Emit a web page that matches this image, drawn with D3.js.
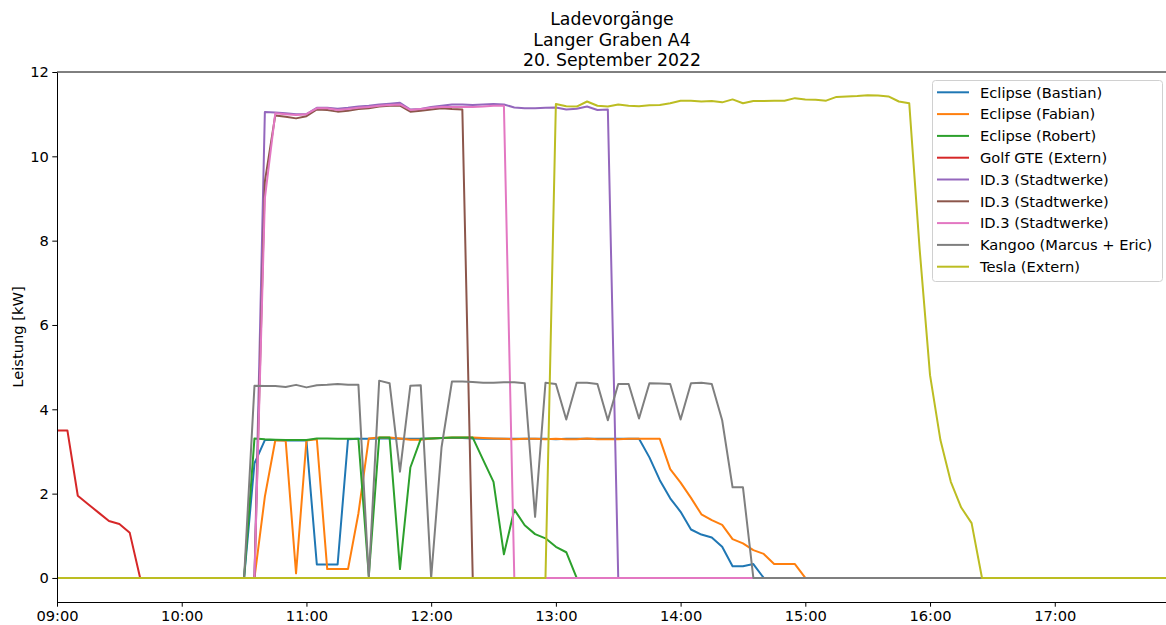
<!DOCTYPE html>
<html>
<head>
<meta charset="utf-8">
<script src="https://d3js.org/d3.v7.min.js"></script>
<style>
  body { margin: 0; background: #fff; }
  svg text { font-family: "DejaVu Sans", sans-serif; fill: #000; }
</style>
</head>
<body>
<div id="chart"></div>
<script>
// time grid: one reading every 5 minutes starting 09:00
var startTime = "2022-09-20 09:00";
var stepMinutes = 5;
var nSteps = 108;

var seriesNames = ["Eclipse (Bastian)", "Eclipse (Fabian)", "Eclipse (Robert)", "Golf GTE (Extern)",
  "ID.3 (Stadtwerke)", "ID.3 (Stadtwerke)", "ID.3 (Stadtwerke)", "Kangoo (Marcus + Eric)", "Tesla (Extern)"];
var colors = ["#1f77b4", "#ff7f0e", "#2ca02c", "#d62728", "#9467bd", "#8c564b", "#e377c2", "#7f7f7f", "#bcbd22"];

// each session: first step index, then kW readings (zero outside a session)
var bastianFrom = 18;
var bastian = [0, 2.72, 3.27, 3.27, 3.26, 3.26, 3.26, 0.32, 0.32, 0.32, 3.29, 3.3, 3.3, 3.31, 3.31, 3.3, 3.3,
  3.3, 3.31, 3.32, 3.32, 3.32, 3.31, 3.3, 3.3, 3.3, 3.3, 3.3, 3.3, 3.3, 3.29, 3.3, 3.3, 3.3, 3.3, 3.3, 3.3, 3.3, 3.3,
  2.86, 2.32, 1.89, 1.57, 1.15, 1.03, 0.96, 0.74, 0.28, 0.28, 0.33, 0];
var fabianFrom = 19;
var fabian = [0, 1.93, 3.26, 3.26, 0.11, 3.26, 3.29, 0.21, 0.21, 0.21, 1.53, 3.31, 3.33, 3.33, 3.31, 3.28, 3.28,
  3.31, 3.32, 3.33, 3.33, 3.33, 3.32, 3.31, 3.3, 3.29, 3.3, 3.3, 3.29, 3.3, 3.29, 3.29, 3.31, 3.29, 3.29, 3.29,
  3.3, 3.3, 3.3, 3.3, 2.58, 2.26, 1.9, 1.51, 1.37, 1.26, 0.92, 0.82, 0.66, 0.57, 0.33, 0.33, 0.33, 0];
var robertFrom = 18;
var robert = [0, 3.31, 3.29, 3.28, 3.27, 3.27, 3.27, 3.31, 3.31, 3.3, 3.3, 3.3, 0.05, 3.33, 3.33, 0.21, 2.62,
  3.3, 3.31, 3.32, 3.33, 3.33, 3.33, 2.8, 2.28, 0.56, 1.62, 1.25, 1.04, 0.94, 0.74, 0.61, 0];
var golfFrom = 0;
var golf = [3.5, 3.5, 1.95, 1.75, 1.55, 1.35, 1.28, 1.07, 0];
var id3aFrom = 19;
var id3a = [0, 11.05, 11.04, 11.02, 11.0, 11.0, 11.15, 11.15, 11.13, 11.15, 11.18, 11.2, 11.23, 11.25, 11.27,
  11.11, 11.12, 11.17, 11.2, 11.23, 11.23, 11.22, 11.23, 11.24, 11.23, 11.16, 11.14, 11.14, 11.15, 11.16,
  11.11, 11.13, 11.18, 11.1, 11.11, 0];
var id3bFrom = 19;
var id3b = [0, 9.4, 10.97, 10.94, 10.9, 10.95, 11.11, 11.1, 11.06, 11.08, 11.12, 11.14, 11.18, 11.2, 11.2,
  11.06, 11.08, 11.11, 11.14, 11.12, 11.11, 0];
var id3cFrom = 19;
var id3c = [0, 9.0, 11.02, 11.0, 10.98, 11.0, 11.14, 11.14, 11.1, 11.12, 11.15, 11.17, 11.2, 11.22, 11.23,
  11.1, 11.12, 11.15, 11.17, 11.17, 11.17, 11.17, 11.18, 11.2, 11.2, 0];
var kangooFrom = 18;
var kangoo = [0, 4.56, 4.55, 4.55, 4.53, 4.58, 4.52, 4.57, 4.58, 4.6, 4.58, 4.58, 0, 4.68, 4.62, 2.52, 4.56,
  4.57, 0, 3.1, 4.66, 4.66, 4.65, 4.63, 4.63, 4.64, 4.64, 4.62, 1.45, 4.63, 4.6, 3.76, 4.63, 4.63, 4.6, 3.74,
  4.6, 4.6, 3.78, 4.62, 4.61, 4.6, 3.76, 4.62, 4.63, 4.6, 3.74, 2.15, 2.15, 0];
var teslaFrom = 47;
var tesla = [0, 11.24, 11.19, 11.18, 11.3, 11.2, 11.18, 11.23, 11.2, 11.19, 11.21, 11.22, 11.26, 11.32, 11.32,
  11.3, 11.31, 11.28, 11.35, 11.26, 11.31, 11.31, 11.32, 11.32, 11.38, 11.35, 11.34, 11.32, 11.41, 11.42,
  11.43, 11.45, 11.44, 11.42, 11.3, 11.26, 7.8, 4.81, 3.27, 2.28, 1.67, 1.3, 0];

var yTicks = [0, 2, 4, 6, 8, 10, 12];
var titleLines = ["Ladevorgänge", "Langer Graben A4", "20. September 2022"];
var yLabel = "Leistung [kW]";

var parseTime = d3.timeParse("%Y-%m-%d %H:%M");
var t0 = parseTime(startTime);
var times = d3.range(nSteps).map(function (i) { return d3.timeMinute.offset(t0, i * stepMinutes); });

function fullSeries(from, vals) {
  return times.map(function (t, i) {
    var k = i - from;
    return { t: t, v: (k >= 0 && k < vals.length) ? vals[k] : 0 };
  });
}

var series = [
  fullSeries(bastianFrom, bastian), fullSeries(fabianFrom, fabian), fullSeries(robertFrom, robert),
  fullSeries(golfFrom, golf), fullSeries(id3aFrom, id3a), fullSeries(id3bFrom, id3b),
  fullSeries(id3cFrom, id3c), fullSeries(kangooFrom, kangoo), fullSeries(teslaFrom, tesla)
];

var width = 1166, height = 625;
var plot = { left: 57, right: 1167, top: 72, bottom: 602 };

var svg = d3.select("#chart").append("svg")
  .attr("width", width)
  .attr("height", height);

var x = d3.scaleTime()
  .domain([t0, parseTime("2022-09-20 17:54")])
  .range([plot.left, plot.right]);

var y = d3.scaleLinear()
  .domain([-0.57, 12])
  .range([plot.bottom, plot.top]);

svg.append("clipPath").attr("id", "clip")
  .append("rect")
  .attr("x", plot.left).attr("y", plot.top)
  .attr("width", plot.right - plot.left).attr("height", plot.bottom - plot.top);

// lines
var line = d3.line()
  .x(function (d) { return x(d.t); })
  .y(function (d) { return y(d.v); });

svg.append("g").attr("clip-path", "url(#clip)")
  .selectAll("path")
  .data(series)
  .join("path")
  .attr("fill", "none")
  .attr("stroke", function (d, i) { return colors[i]; })
  .attr("stroke-width", 2)
  .attr("stroke-linejoin", "round")
  .attr("d", line);

// axes
var xAxis = d3.axisBottom(x)
  .ticks(d3.timeHour.every(1))
  .tickFormat(d3.timeFormat("%H:%M"))
  .tickSize(4.7).tickSizeOuter(0).tickPadding(3.5);

var gx = svg.append("g")
  .attr("transform", "translate(0," + plot.bottom + ")")
  .call(xAxis);

var gy = svg.append("g")
  .attr("transform", "translate(" + plot.left + ",0)")
  .call(d3.axisLeft(y).tickValues(yTicks).tickSize(4.7).tickSizeOuter(0).tickPadding(3.5));

[gx, gy].forEach(function (g) {
  g.selectAll("text").style("font-size", "14.67px").attr("fill", "#000");
  g.selectAll("line").attr("stroke", "#000").attr("stroke-width", 1);
  g.select(".domain").attr("stroke", "#000").attr("stroke-width", 1);
});

// top spine
svg.append("line")
  .attr("x1", plot.left).attr("x2", plot.right)
  .attr("y1", plot.top).attr("y2", plot.top)
  .attr("stroke", "#000").attr("stroke-width", 1);

// y label
svg.append("text")
  .attr("transform", "translate(23," + ((plot.top + plot.bottom) / 2) + ") rotate(-90)")
  .attr("text-anchor", "middle")
  .style("font-size", "14.67px")
  .text(yLabel);

// title
svg.append("g").selectAll("text")
  .data(titleLines)
  .join("text")
  .attr("x", (plot.left + plot.right) / 2)
  .attr("y", function (d, i) { return 25 + i * 20.7; })
  .attr("text-anchor", "middle")
  .style("font-size", "17.3px")
  .text(function (d) { return d; });

// legend
var legend = svg.append("g");
legend.append("rect")
  .attr("x", 932.5).attr("y", 80.5)
  .attr("width", 230).attr("height", 201)
  .attr("rx", 3)
  .attr("fill", "#fff").attr("fill-opacity", 0.8)
  .attr("stroke", "#d0d0d0");

var rows = legend.selectAll("g.row")
  .data(seriesNames)
  .join("g")
  .attr("class", "row")
  .attr("transform", function (d, i) { return "translate(0," + (92.3 + i * 21.8) + ")"; });

rows.append("line")
  .attr("x1", 937).attr("x2", 969)
  .attr("stroke", function (d, i) { return colors[i]; })
  .attr("stroke-width", 2);

rows.append("text")
  .attr("x", 980)
  .attr("dy", "0.36em")
  .style("font-size", "14.67px")
  .text(function (d) { return d; });
</script>
</body>
</html>
